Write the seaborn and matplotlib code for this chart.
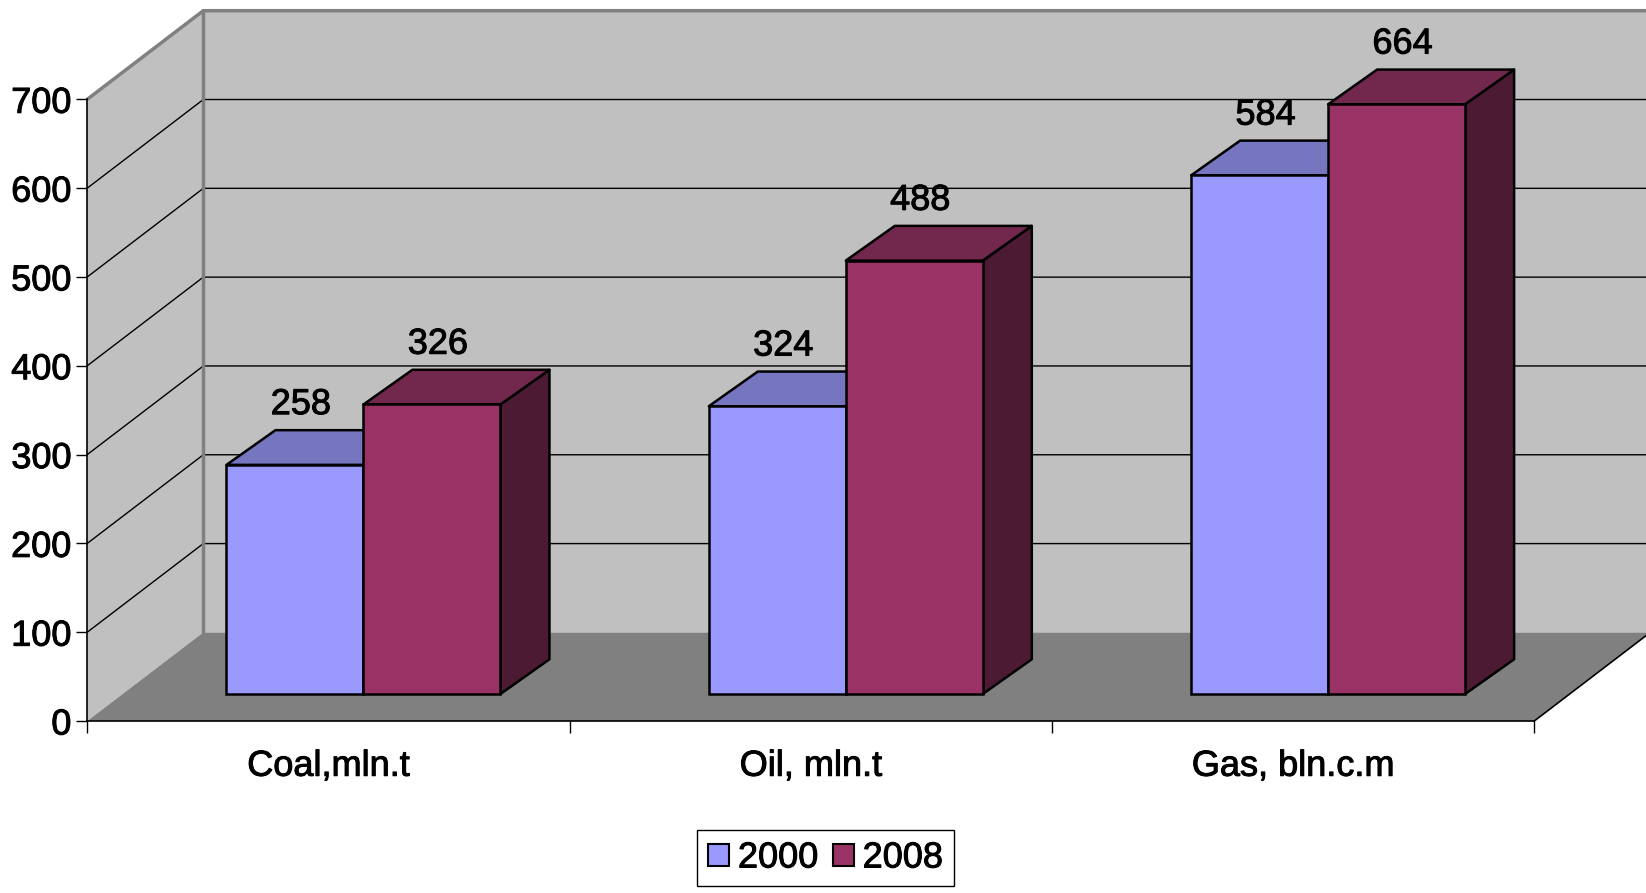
import matplotlib
matplotlib.use("Agg")
import matplotlib.pyplot as plt
import matplotlib.patches as mpatches
import matplotlib.patheffects as pe
import pandas as pd
import seaborn as sns

categories = ["Coal,mln.t", "Oil, mln.t", "Gas, bln.c.m"]
years = ["2000", "2008"]
values_2000 = [258, 324, 584]
values_2008 = [326, 488, 664]
y_ticks = [0, 100, 200, 300, 400, 500, 600, 700]

front_colors = {"2000": "#9999FF", "2008": "#993366"}
top_colors = {"2000": "#7575C0", "2008": "#72274C"}
side_colors = {"2000": "#4D4D80", "2008": "#4D1A33"}

df = pd.DataFrame({
    "category": categories * 2,
    "year": [years[0]] * len(categories) + [years[1]] * len(categories),
    "value": values_2000 + values_2008,
})

plt.rcParams["font.family"] = ["Liberation Sans", "DejaVu Sans"]
FS = 26
# slightly heavier text, like the upscaled original
heavy = [pe.withStroke(linewidth=0.7, foreground="black")]

W, H, DPI = 1646, 893, 100
fig = plt.figure(figsize=(W / DPI, H / DPI), dpi=DPI, facecolor="white")
# front plane of the 3d box (pixels)
left, right, top, bottom = 87.3, 1534.3, 99.3, 721
ax = fig.add_axes([left / W, 1 - bottom / H, (right - left) / W, (bottom - top) / H])

sns.barplot(data=df, x="category", y="value", hue="year", order=categories,
            hue_order=years, palette=front_colors, saturation=1, width=0.568,
            edgecolor="black", linewidth=1.8, legend=False, ax=ax)
bars = sorted(ax.patches, key=lambda b: b.get_x())

ax.set_xlim(-0.5, len(categories) - 0.5)
ax.set_ylim(y_ticks[0], y_ticks[-1])
ax.patch.set_visible(False)

# pixel offsets -> data units
x0, y0 = ax.transData.transform((0, 0))
x1, y1 = ax.transData.transform((1, 1))
sx, sy = x1 - x0, y1 - y0


def px(dx, dy):
    return dx / sx, dy / sy


wx, wy = px(116, 88.6)   # depth of the whole box
fx, fy = px(35, 27)      # where the bar fronts sit
bx, by = px(49, 34.7)    # depth of one bar
lx, ly = px(6, 16)       # value label nudge

xl, xr = ax.get_xlim()
ytop = y_ticks[-1]
wall = "#C0C0C0"

# walls and floor
ax.add_patch(mpatches.Rectangle((xl + wx, wy), xr - xl + 1, ytop, fc=wall, ec="none",
                                clip_on=False, zorder=0))
ax.add_patch(mpatches.Polygon([(xl, 0), (xl, ytop), (xl + wx, ytop + wy), (xl + wx, wy)],
                              fc=wall, ec="none", clip_on=False, zorder=0))
ax.add_patch(mpatches.Polygon([(xl, 0), (xr, 0), (xr + wx, wy), (xl + wx, wy)],
                              fc="#808080", ec="none", clip_on=False, zorder=1))
for v in y_ticks[1:-1]:
    ax.plot([xl, xl + wx, xr + wx + 1], [v, v + wy, v + wy], color="black", lw=1,
            clip_on=False, zorder=1)
ax.plot([xl, xl + wx, xr + wx + 1], [ytop, ytop + wy, ytop + wy], color="#808080", lw=2.5,
        clip_on=False, zorder=1, solid_capstyle="butt")
ax.plot([xl + wx, xl + wx], [wy, ytop + wy], color="#808080", lw=2.5, clip_on=False, zorder=1)
ax.plot([xr, xr + wx], [0, wy], color="black", lw=1.2, clip_on=False, zorder=1)

# 3d bars: side, top, then the seaborn front face
for i, bar in enumerate(bars):
    year = years[i % len(years)]
    x, w, h = bar.get_x() + fx, bar.get_width(), bar.get_height()
    bar.set_x(x)
    bar.set_y(fy)
    zo = 3 + i * 3
    ax.add_patch(mpatches.Polygon(
        [(x + w, fy), (x + w + bx, fy + by), (x + w + bx, fy + h + by), (x + w, fy + h)],
        fc=side_colors[year], ec="black", lw=1.8, joinstyle="round", clip_on=False, zorder=zo))
    ax.add_patch(mpatches.Polygon(
        [(x, fy + h), (x + bx, fy + h + by), (x + w + bx, fy + h + by), (x + w, fy + h)],
        fc=top_colors[year], ec="black", lw=1.8, joinstyle="round", clip_on=False, zorder=zo + 1))
    bar.set_zorder(zo + 2)
    bar.set_clip_on(False)
    ax.text(x + w / 2 + lx, fy + h + by + ly, f"{h:.0f}", ha="center", va="baseline",
            fontsize=FS, color="black", zorder=50, clip_on=False, path_effects=heavy)

# axes
for s in ["top", "right"]:
    ax.spines[s].set_visible(False)
for s in ["left", "bottom"]:
    ax.spines[s].set_color("black")
    ax.spines[s].set_linewidth(1.2)
ax.set_yticks(y_ticks)
ax.tick_params(axis="y", direction="out", length=8, width=1, color="black",
               labelsize=FS, pad=3.5, left=True)
ax.set_xticks([xl + k for k in range(len(categories) + 1)])
ax.set_xticklabels([])
ax.tick_params(axis="x", which="major", direction="out", length=8.5, width=1, color="black", bottom=True)
ax.set_xticks(range(len(categories)), minor=True)
ax.set_xticklabels(categories, minor=True)
ax.tick_params(axis="x", which="minor", length=0, pad=20, labelsize=FS)
ax.set_xlabel("")
ax.set_ylabel("")
for t in ax.get_yticklabels() + ax.get_xticklabels(minor=True):
    t.set_path_effects(heavy)

handles = [mpatches.Patch(fc=front_colors[y], ec="black", lw=1.5, label=y) for y in years]
leg = fig.legend(handles=handles, loc="center", bbox_to_anchor=(825.5 / W, 1 - 858 / H),
                 ncol=2, fontsize=FS, frameon=True, fancybox=False, framealpha=1,
                 edgecolor="black", handlelength=0.58, handleheight=0.58,
                 handletextpad=0.25, columnspacing=0.4, borderpad=0.3)
leg.get_frame().set_linewidth(1)
for t in leg.get_texts():
    t.set_path_effects(heavy)

fig.savefig("out.png", dpi=DPI)
